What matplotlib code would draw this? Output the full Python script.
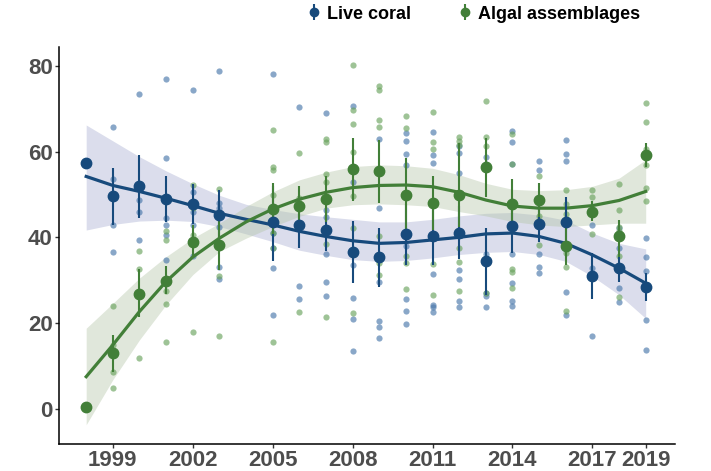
"""Live coral vs algal assemblages cover over time."""

import numpy as np
import matplotlib
matplotlib.use("Agg")
import matplotlib.pyplot as plt
from matplotlib.lines import Line2D
from matplotlib.legend_handler import HandlerTuple

plt.rcParams['font.family'] = ['Liberation Sans', 'DejaVu Sans']

BLUE = "#174a7c"
GREEN = "#427f38"

# survey years with a mean value
mean_years = [1998, 1999, 2000, 2001, 2002, 2003, 2005, 2006, 2007, 2008, 2009,
              2010, 2011, 2012, 2013, 2014, 2015, 2016, 2017, 2018, 2019]

coral_mean = [57.3, 49.7, 51.9, 48.9, 47.8, 45.2, 43.5, 42.9, 41.7, 36.5, 35.3,
              40.7, 40.4, 41.1, 34.4, 42.7, 43.1, 43.5, 31.1, 32.8, 28.4]
coral_lo = [np.nan, 42.9, 44.5, 43.5, 43.0, 40.0, 34.4, 37.5, 36.7, 29.3, 28.5,
            33.6, 33.6, 34.9, 26.6, 36.3, 39.0, 37.5, 25.7, 29.7, 25.2]
coral_hi = [np.nan, 56.1, 59.2, 54.3, 52.5, 51.1, 52.0, 48.3, 46.7, 43.7, 42.1,
            47.8, 47.2, 47.3, 42.2, 49.1, 47.2, 49.5, 36.3, 35.5, 31.6]

algae_mean = [0.5, 13.0, 26.8, 29.9, 38.9, 38.1, 46.6, 47.4, 48.9, 55.9, 55.5,
              49.9, 48.0, 49.8, 56.3, 47.7, 48.7, 38.0, 46.0, 40.4, 59.1]
algae_lo = [np.nan, 8.7, 21.4, 26.8, 35.5, 32.4, 40.8, 42.8, 43.5, 48.4, 48.0,
            41.0, 41.8, 42.5, 49.5, 41.8, 44.8, 33.5, 43.7, 35.5, 56.5]
algae_hi = [np.nan, 17.3, 32.6, 33.2, 42.9, 44.0, 52.6, 52.0, 54.3, 63.1, 62.7,
            58.5, 54.2, 62.0, 63.1, 53.6, 52.6, 42.9, 48.4, 44.0, 61.9]

# individual site values per year
coral_sites = {
    1999: [65.8, 53.6, 42.9, 36.5],
    2000: [73.5, 48.7, 45.8, 39.3],
    2001: [77.0, 58.5, 44.5, 42.9, 40.6, 34.8],
    2002: [74.4, 50.5, 46.0, 42.9, 35.7],
    2003: [78.7, 48.0, 46.8, 42.5, 33.0, 30.2],
    2005: [78.0, 41.1, 37.5, 32.8, 21.8],
    2006: [70.3, 28.7, 25.7],
    2007: [69.1, 46.4, 44.7, 36.2, 29.7, 26.4],
    2008: [70.7, 52.8, 33.6, 25.8, 21.0, 13.4],
    2009: [62.9, 46.8, 29.5, 20.5, 19.1, 16.5],
    2010: [64.4, 62.4, 59.4, 56.9, 38.0, 25.7, 22.9, 19.8],
    2011: [64.5, 59.1, 57.3, 31.4, 24.3, 23.7, 22.5],
    2012: [61.2, 59.6, 55.0, 32.4, 30.3, 25.2, 23.7],
    2013: [58.7, 57.2, 36.1, 27.1, 26.4, 23.7],
    2014: [64.9, 62.3, 57.2, 36.1, 29.3, 25.2, 24.1],
    2015: [57.8, 55.7, 36.1, 33.0, 31.6],
    2016: [62.7, 59.5, 57.8, 27.2, 21.9],
    2017: [42.9, 32.8, 16.9],
    2018: [42.1, 37.5, 28.1, 25.0],
    2019: [39.8, 35.4, 32.2, 20.8, 13.8],
}
algae_sites = {
    1999: [23.9, 14.9, 8.5, 4.8],
    2000: [36.9, 32.6, 11.8],
    2001: [41.4, 39.4, 27.6, 24.4, 15.7],
    2002: [52.2, 46.8, 40.6, 18.0],
    2003: [51.2, 31.0, 16.9],
    2005: [65.1, 56.5, 55.7, 49.9, 41.1, 37.5, 15.7],
    2006: [59.6, 49.1, 22.5],
    2007: [62.9, 62.3, 54.7, 52.8, 38.5, 21.4],
    2008: [80.2, 69.7, 66.4, 60.0, 49.7, 42.1, 22.3],
    2009: [75.3, 74.4, 67.4, 65.8, 40.3, 34.1, 31.3],
    2010: [68.3, 65.6, 35.7, 34.0, 28.0],
    2011: [69.3, 62.3, 60.6, 33.7, 26.6],
    2012: [63.4, 62.5, 61.5, 37.5, 34.2, 27.4],
    2013: [71.9, 63.3, 61.3, 27.1],
    2014: [64.1, 57.2, 32.6, 31.8, 28.1],
    2015: [54.4, 45.0, 38.2],
    2016: [51.1, 47.8, 45.5, 36.3, 33.0, 22.9],
    2017: [51.1, 49.4, 40.8],
    2018: [52.5, 46.4, 42.5, 41.4, 35.7, 26.2],
    2019: [71.3, 66.8, 60.6, 56.9, 51.6, 48.4],
}

# smoothed trend and confidence band, read at each year
fit_years = list(range(1998, 2020))
coral_fit = [54.2, 52.1, 50.7, 49.1, 47.4, 45.6, 44.2, 42.9, 41.4, 40.2, 39.2,
             38.6, 38.8, 39.4, 40.0, 40.8, 41.0, 40.2, 38.6, 35.9, 32.8, 29.3]
coral_fit_lo = [41.7, 43.0, 43.8, 44.0, 43.7, 42.5, 40.8, 39.0, 37.0, 35.8, 34.8,
                34.4, 34.6, 35.2, 36.0, 36.5, 36.7, 36.0, 34.4, 30.9, 26.6, 21.1]
coral_fit_hi = [66.2, 62.5, 58.8, 55.5, 52.5, 49.8, 47.7, 46.5, 45.5, 44.8, 44.2,
                43.6, 43.6, 44.2, 45.0, 45.6, 45.8, 45.2, 44.0, 41.0, 38.6, 37.3]
algae_fit = [7.5, 14.9, 22.7, 29.7, 35.4, 39.8, 43.6, 46.6, 48.9, 50.5, 51.6,
             52.1, 52.2, 51.8, 50.5, 48.7, 47.3, 46.8, 46.8, 47.4, 48.6, 50.7]
algae_fit_lo = [-3.7, 6.8, 16.1, 24.3, 31.3, 36.7, 39.8, 42.5, 44.9, 46.8, 47.6,
                47.8, 47.6, 47.2, 46.0, 45.0, 43.7, 42.9, 42.5, 42.9, 43.3, 43.3]
algae_fit_hi = [18.8, 24.6, 30.5, 35.5, 39.8, 43.3, 47.2, 50.6, 53.4, 55.2, 56.5,
                56.9, 56.7, 56.1, 54.6, 52.6, 51.2, 50.9, 51.1, 51.9, 53.8, 58.1]

x_ticks = [1999, 2002, 2005, 2008, 2011, 2014, 2017, 2019]
y_ticks = [0, 20, 40, 60, 80]


def plotSeries(ax, mean, lo, hi, sites, fit, fit_lo, fit_hi, color, band_color, pt_color):
    ax.fill_between(fit_years, fit_lo, fit_hi, color=band_color, alpha=0.4,
                    linewidth=0, zorder=1)
    xs = [yr for yr, vals in sites.items() for _ in vals]
    ys = [v for vals in sites.values() for v in vals]
    ax.scatter(xs, ys, s=20, color=pt_color, alpha=0.65, linewidths=0, zorder=2)
    ax.plot(fit_years, fit, color=color, linewidth=2.3, zorder=3)
    m = np.array(mean)
    err = np.array([m - np.array(lo), np.array(hi) - m])
    ax.errorbar(mean_years, m, yerr=err, fmt='none', ecolor=color,
                elinewidth=1.5, capsize=0, zorder=4)
    ax.plot(mean_years, m, 'o', color=color, markersize=7.5, zorder=5)


def makePlot():
    fig = plt.figure(figsize=(7.11, 4.71), dpi=100)
    ax = fig.add_axes([0.083, 0.0573, 0.866, 0.843])

    plotSeries(ax, coral_mean, coral_lo, coral_hi, coral_sites,
               coral_fit, coral_fit_lo, coral_fit_hi, BLUE, "#a5abd0", "#4a78ab")
    plotSeries(ax, algae_mean, algae_lo, algae_hi, algae_sites,
               algae_fit, algae_fit_lo, algae_fit_hi, GREEN, "#b2c4a5", "#6aa35e")

    ax.set_xlim(1996.98, 2020.09)
    ax.set_ylim(-8.2, 84.4)
    ax.set_xticks(x_ticks)
    ax.set_yticks(y_ticks)
    for side in ['top', 'right']:
        ax.spines[side].set_visible(False)
    for side in ['left', 'bottom']:
        ax.spines[side].set_linewidth(1.1)
        ax.spines[side].set_color('black')
    ax.tick_params(length=3, width=1, color='#333333', labelsize=16,
                   labelcolor='#4d4d4d', pad=1.5)
    for lab in ax.get_xticklabels() + ax.get_yticklabels():
        lab.set_fontweight('bold')

    handles = []
    for c in [BLUE, GREEN]:
        dot = Line2D([], [], marker='o', color=c, linestyle='none', markersize=6)
        bar = Line2D([], [], marker='|', color=c, linestyle='none', markersize=12,
                     markeredgewidth=1.5)
        handles.append((bar, dot))
    fig.legend(handles, ['Live coral', 'Algal assemblages'],
               handler_map={tuple: HandlerTuple(ndivide=1, pad=0)},
               loc='center left', bbox_to_anchor=(0.412, 0.970), ncol=2,
               frameon=False, prop={'weight': 'bold', 'size': 13},
               handlelength=0.5, handletextpad=0.5, columnspacing=2.7)

    fig.savefig("out.png", dpi=100)


if __name__ == "__main__":
    makePlot()
